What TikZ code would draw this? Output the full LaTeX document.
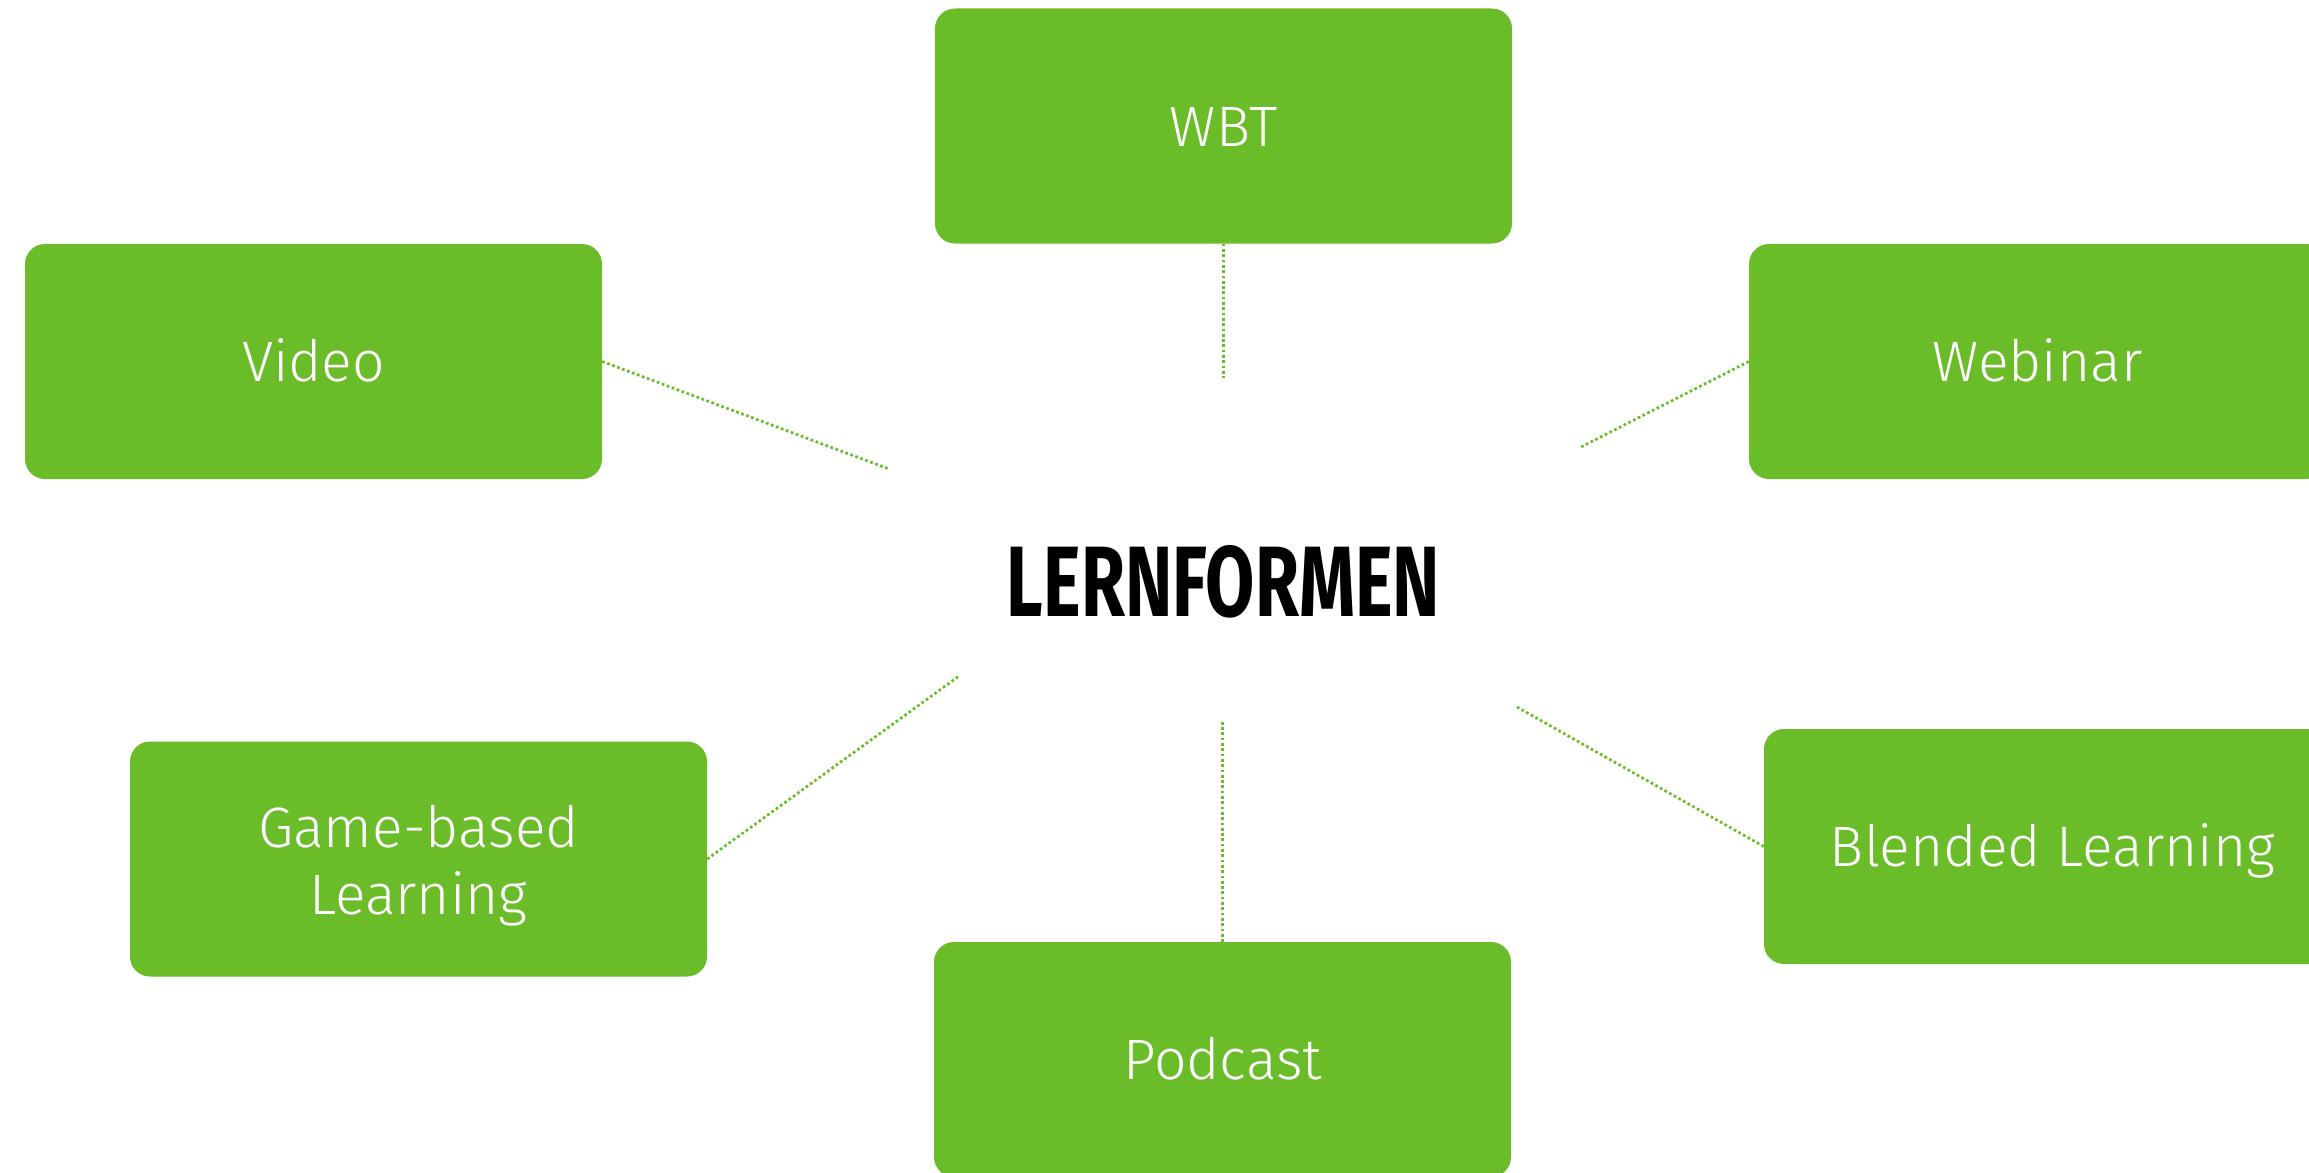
\documentclass[tikz,border=0pt]{standalone}
\usepackage{fontspec}
\setmainfont{Fira Sans}[UprightFont=* Light, BoldFont=* Bold]
\definecolor{lgreen}{RGB}{106,189,40}
\begin{document}
\begin{tikzpicture}[x=1pt,y=-1pt,
  box/.style={fill=lgreen, rounded corners=20pt, minimum width=577pt, minimum height=235pt,
    inner sep=0pt, text=white, font=\fontsize{57}{67}\selectfont, align=center,
    text height=40pt, text depth=0pt},
  link/.style={draw=lgreen, line width=2.7pt, dash pattern=on 2.7pt off 2.6pt}]
\useasboundingbox (0,0) rectangle (2309,1172);
\node[box] (wbt) at (1223.5,126) {WBT};
\node[box] (video) at (313.5,361.5) {Video};
\node[box] (webinar) at (2037.5,361.5) {Webinar};
\node[box, text height=110pt] (game) at (418.5,859) {Game-based\\Learning};
\node[box] (blended) at (2052.5,846.5) {Blended Learning};
\node[box] (podcast) at (1222.5,1059.5) {Podcast};
\node[inner sep=0pt, text height=71pt, text depth=0pt] (title) at (1223.5,580.5)
  {\resizebox{433pt}{71pt}{\bfseries LERNFORMEN}};
\coordinate (cw) at (1223.5,378);
\coordinate (cv) at (889,469);
\coordinate (cwe) at (1581,447);
\coordinate (cg) at (959,676);
\coordinate (cb) at (1517,707);
\coordinate (cp) at (1222.5,722);
\draw[link] (wbt.south) -- (cw);
\draw[link] (video.east) -- (cv);
\draw[link] (webinar.west) -- (cwe);
\draw[link] (game.east) -- (cg);
\draw[link] (blended.west) -- (cb);
\draw[link] (podcast.north) -- (cp);
\end{tikzpicture}
\end{document}
